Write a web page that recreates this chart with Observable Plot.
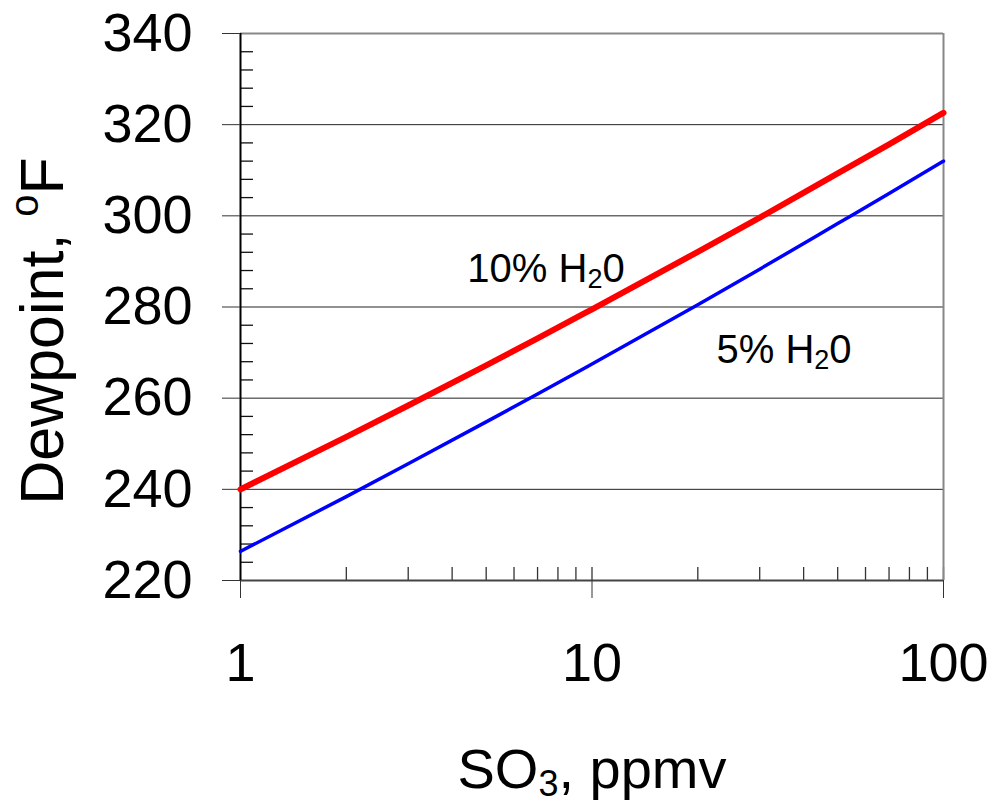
<!DOCTYPE html>
<html><head><meta charset="utf-8">
<script src="https://cdn.jsdelivr.net/npm/d3@7"></script>
<script src="https://cdn.jsdelivr.net/npm/@observablehq/plot@0.6"></script>
<style>html,body{margin:0;padding:0;background:#fff;}</style>
</head><body><div id="chart"></div>
<script>
// ---- data ----
const so3   = [1, 2, 3, 5, 7, 10, 20, 30, 50, 70, 100];
const dew10 = [240, 251.5, 258.4, 267.2, 273.1, 279.5, 292.1, 299.6, 309.3, 315.7, 322.6];
const dew5  = [226.4, 238.4, 245.6, 254.8, 260.9, 267.5, 280.5, 288.3, 298.3, 304.9, 312];

const yTicks = [220, 240, 260, 280, 300, 320, 340];
const yGrid = [240, 260, 280, 300, 320];
const yMinor = [224, 228, 232, 236, 244, 248, 252, 256, 264, 268, 272, 276, 284, 288, 292, 296, 304, 308, 312, 316, 324, 328, 332, 336];
const xTicks = [1, 10, 100];
const xInner = [2, 3, 4, 5, 6, 7, 8, 9, 10, 20, 30, 40, 50, 60, 70, 80, 90, 100];

const seriesNames = ["10% H2O", "5% H2O"];
const annText = ["10% H_{2}0", "5% H_{2}0"];
const annX = [4.42, 22.6];
const annY = [285.4, 267.8];
const xTitle = "SO_{3}, ppmv";
const yTitle = "Dewpoint, ^{o}F";

const rows = [
  ...so3.map((x, i) => ({x, y: dew10[i], s: seriesNames[0]})),
  ...so3.map((x, i) => ({x, y: dew5[i], s: seriesNames[1]}))
];
const anns = annText.map((t, i) => ({t, x: annX[i], y: annY[i]}));

const font = "'Liberation Sans', Arial, Helvetica, sans-serif";

const chart = Plot.plot({
  width: 993, height: 804,
  marginLeft: 240, marginRight: 50, marginTop: 33, marginBottom: 224,
  style: {fontFamily: font, background: "white", color: "black", overflow: "visible"},
  x: {type: "log", domain: [1, 100]},
  y: {domain: [220, 340]},
  marks: [
    Plot.ruleY(yGrid, {stroke: "#222", strokeWidth: 1}),
    Plot.tickY(yMinor, {y: d => d, insetRight: 690, stroke: "#111", strokeWidth: 1.3}),
    Plot.tickX(xInner, {x: d => d, insetTop: 534, stroke: "#333", strokeWidth: 1.3}),
    Plot.ruleY([340], {stroke: "#888", strokeWidth: 2}),
    Plot.ruleX([100], {stroke: "#888", strokeWidth: 2}),
    Plot.ruleY([220], {stroke: "#444", strokeWidth: 2}),
    Plot.ruleX([1], {stroke: "#000", strokeWidth: 2}),
    Plot.axisY({ticks: yTicks, tickSize: 18, tickPadding: 30, fontSize: 54, label: null, tickFormat: d => String(d), stroke: "#333", fill: "black"}),
    Plot.axisX({ticks: xTicks, tickSize: 18, tickPadding: 44, fontSize: 54, label: null, tickFormat: d => String(d), stroke: "#333", fill: "black"}),
    Plot.line(rows.filter(d => d.s === seriesNames[0]), {x: "x", y: "y", stroke: "#ff0000", strokeWidth: 6, curve: "monotone-x"}),
    Plot.line(rows.filter(d => d.s === seriesNames[1]), {x: "x", y: "y", stroke: "#0000ff", strokeWidth: 3.5, curve: "monotone-x"}),
    Plot.text(anns, {x: "x", y: "y", text: "t", textAnchor: "start", lineAnchor: "bottom", fontSize: 40, fill: "black"}),
    Plot.text([xTitle], {text: d => d, frameAnchor: "bottom", dy: 207, lineAnchor: "bottom", textAnchor: "middle", fontSize: 56, fill: "black"}),
    Plot.text([yTitle], {text: d => d, frameAnchor: "left", rotate: -90, dx: -178, dy: 24, lineAnchor: "bottom", textAnchor: "middle", fontSize: 61, fill: "black"})
  ]
});

// rich text: sub/superscripts
const rich = {
  "10% H_{2}0": {small: 27, sub: 6, sup: 0},
  "5% H_{2}0": {small: 27, sub: 6, sup: 0},
  "SO_{3}, ppmv": {small: 36, sub: 8, sup: 0},
  "Dewpoint, ^{o}F": {small: 40, sub: 0, sup: 25}
};
d3.select(chart).selectAll("text").each(function() {
  const s = this.textContent;
  const cfg = rich[s];
  if (!cfg) return;
  const sel = d3.select(this);
  sel.text("");
  let offset = 0;
  s.split(/([_^]\{[^}]*\})/).filter(p => p).forEach(p => {
    const m = p.match(/^([_^])\{([^}]*)\}$/);
    if (m) {
      const sh = m[1] === "_" ? cfg.sub : -cfg.sup;
      sel.append("tspan").attr("font-size", cfg.small).attr("dy", sh - offset).text(m[2]);
      offset = sh;
    } else {
      sel.append("tspan").attr("dy", -offset).attr("xml:space", "preserve").text(p);
      offset = 0;
    }
  });
});

document.getElementById("chart").appendChild(chart);
</script>
</body></html>
